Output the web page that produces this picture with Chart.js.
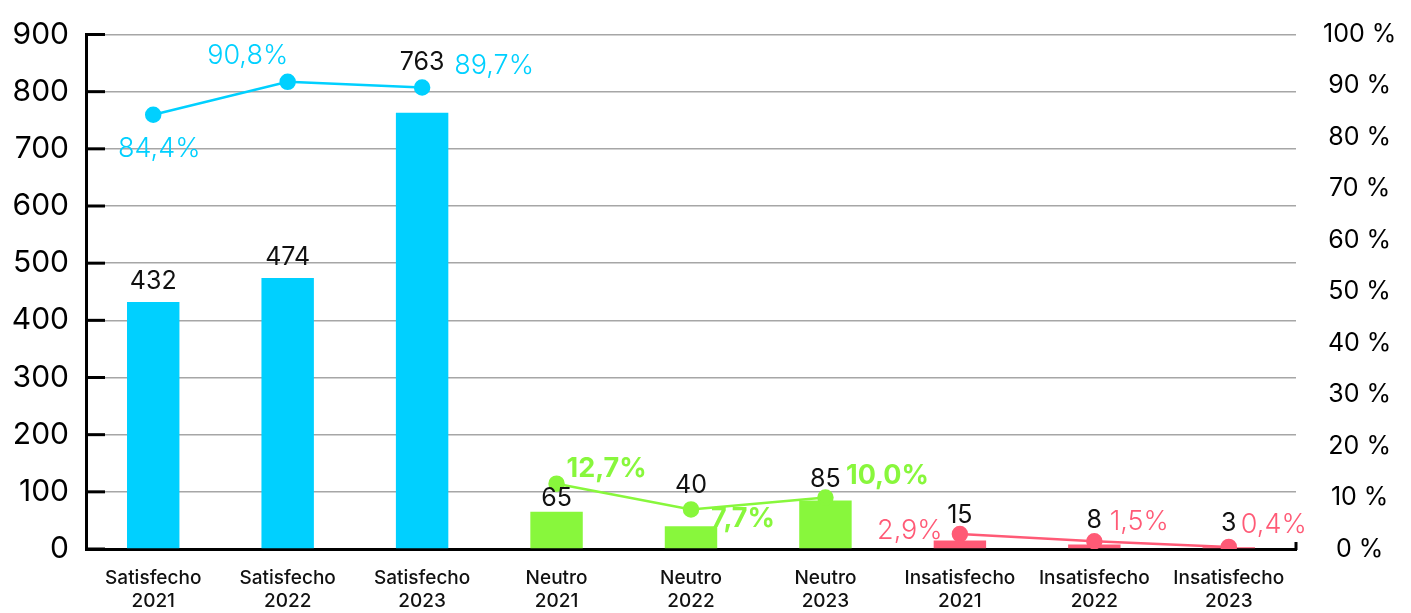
<!DOCTYPE html>
<html>
<head>
<meta charset="utf-8">
<script src="https://cdn.jsdelivr.net/npm/chart.js@4.4.1/dist/chart.umd.min.js"></script>
<style>
  html, body { margin: 0; padding: 0; background: #fff; }
  #wrap { width: 1411px; height: 613px; position: relative; }
</style>
</head>
<body>
<div id="wrap"><canvas id="combo"></canvas></div>
<script>
// categories and values
const categories = [
  ["Satisfecho", "2021"], ["Satisfecho", "2022"], ["Satisfecho", "2023"],
  ["Neutro", "2021"], ["Neutro", "2022"], ["Neutro", "2023"],
  ["Insatisfecho", "2021"], ["Insatisfecho", "2022"], ["Insatisfecho", "2023"],
];
const responses = [432, 474, 763, 65, 40, 85, 15, 8, 3];
const satisfechoPct = [84.4, 90.8, 89.7];
const neutroPct = [12.7, 7.7, 10.0];
const insatisfechoPct = [2.9, 1.5, 0.4];

const CYAN = "#00d0ff";
const GREEN = "#88f73c";
const RED = "#ff5a76";
const FONT = "Inter, 'DejaVu Sans', sans-serif";

// place each group's percentages under its own three categories
function spread(values, group) {
  const out = new Array(categories.length).fill(null);
  values.forEach((v, i) => { out[group * 3 + i] = v; });
  return out;
}
const fmtPct = (v) => v.toFixed(1).replace(".", ",") + "%";

const barColors = responses.map((_, i) => [CYAN, GREEN, RED][Math.floor(i / 3)]);

// black numbers above the bars, coloured percentages next to the points
const labelPlugin = {
  id: "labels",
  afterDatasetsDraw(chart) {
    const ctx = chart.ctx;
    const opts = chart.options.plugins.labels;
    ctx.save();
    ctx.textAlign = "center";
    ctx.textBaseline = "middle";

    ctx.font = "400 25px " + FONT;
    ctx.fillStyle = "#111";
    chart.getDatasetMeta(3).data.forEach((bar, i) => {
      ctx.fillText(String(responses[i]), bar.x, bar.y - opts.barLift[i]);
    });

    [0, 1, 2].forEach((d) => {
      const ds = chart.data.datasets[d];
      ctx.fillStyle = ds.borderColor;
      ctx.font = (d === 1 ? "700 " : "300 ") + "27px " + FONT;
      let k = 0;
      chart.getDatasetMeta(d).data.forEach((pt, i) => {
        if (ds.data[i] === null) return;
        const [dx, dy] = opts.offsets[d][k++];
        ctx.fillText(fmtPct(ds.data[i]), pt.x + dx, pt.y + dy);
      });
    });
    ctx.restore();
  },
  afterDraw(chart) {
    // short black ticks pointing into the plot, and the end mark of the base line
    const ctx = chart.ctx;
    const y = chart.scales.y;
    const area = chart.chartArea;
    ctx.save();
    ctx.strokeStyle = "#000";
    ctx.lineWidth = 3;
    y.ticks.forEach((t) => {
      const py = y.getPixelForValue(t.value);
      ctx.beginPath();
      ctx.moveTo(area.left, py);
      ctx.lineTo(area.left + 19, py);
      ctx.stroke();
    });
    ctx.beginPath();
    ctx.moveTo(area.right, area.bottom + 1);
    ctx.lineTo(area.right, area.bottom - 7);
    ctx.stroke();
    ctx.restore();
  },
};

new Chart(document.getElementById("combo"), {
  type: "bar",
  data: {
    labels: categories,
    datasets: [
      {
        type: "line", data: spread(satisfechoPct, 0), yAxisID: "y1", order: 0,
        borderColor: CYAN, backgroundColor: CYAN, borderWidth: 2.5, pointRadius: 7,
      },
      {
        type: "line", data: spread(neutroPct, 1), yAxisID: "y1", order: 0,
        borderColor: GREEN, backgroundColor: GREEN, borderWidth: 2.5, pointRadius: 7,
      },
      {
        type: "line", data: spread(insatisfechoPct, 2), yAxisID: "y1", order: 0,
        borderColor: RED, backgroundColor: RED, borderWidth: 2.5, pointRadius: 7,
      },
      {
        type: "bar", data: responses, yAxisID: "y", order: 1,
        backgroundColor: barColors, barPercentage: 0.39, categoryPercentage: 1,
      },
    ],
  },
  options: {
    responsive: true,
    maintainAspectRatio: false,
    animation: false,
    layout: { padding: { top: 32, left: 0, right: 0, bottom: 0 } },
    plugins: {
      legend: { display: false },
      tooltip: { enabled: false },
      labels: {
        barLift: [21, 21, 50, 13, 41, 21, 25, 24, 24],
        offsets: [
          [[6, 34], [-40, -26], [72, -22]],
          [[50, -15], [52, 9], [62, -22]],
          [[-50, -3], [45, -19], [45, -22]],
        ],
      },
    },
    scales: {
      x: {
        grid: { display: false, drawTicks: false },
        border: { display: true, color: "#000", width: 3 },
        ticks: { color: "#111", font: { family: FONT, size: 19, weight: "500", lineHeight: 1.2 }, padding: 18, maxRotation: 0 },
        afterFit: (s) => { s.height = 64; },
      },
      y: {
        position: "left",
        min: 0, max: 900,
        ticks: { stepSize: 100, color: "#000", font: { family: FONT, size: 30, lineHeight: 0.6 }, padding: 17 },
        grid: { color: "#a6a6a6", lineWidth: 1.5, drawTicks: false },
        border: { display: true, color: "#000", width: 3 },
        afterFit: (s) => { s.width = 86; },
      },
      y1: {
        position: "right",
        min: 0, max: 100,
        ticks: {
          stepSize: 10, color: "#000", crossAlign: "center", padding: 27,
          font: { family: FONT, size: 25, lineHeight: 0.6 },
          callback: (v) => v + " %",
        },
        grid: { display: false, drawTicks: false },
        border: { display: false },
        afterFit: (s) => { s.width = 115; },
      },
    },
  },
  plugins: [labelPlugin],
});
</script>
</body>
</html>
